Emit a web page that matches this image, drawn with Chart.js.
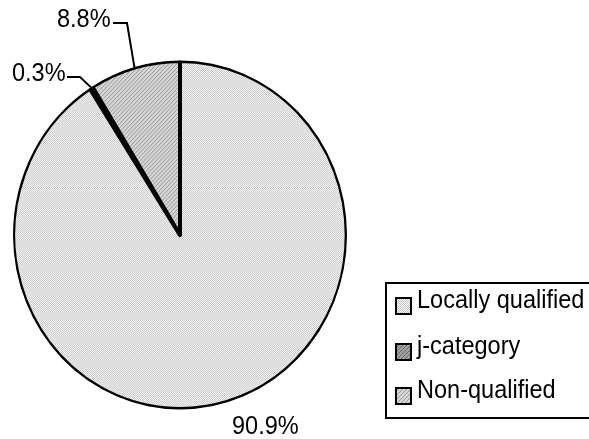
<!DOCTYPE html>
<html>
<head>
<meta charset="utf-8">
<script src="https://cdn.jsdelivr.net/npm/chart.js@4/dist/chart.umd.min.js"></script>
<style>
  body { margin: 0; background: #fff; }
  #wrap { width: 589px; height: 439px; }
</style>
</head>
<body>
<div id="wrap"><canvas id="pie" width="589" height="439"></canvas></div>
<script>
// data
const categories = ["Locally qualified", "j-category", "Non-qualified"];
const shares = [90.9, 0.3, 8.8];
const shareLabels = ["90.9%", "0.3%", "8.8%"];

// the original picture is a bit taller than wide
const STRETCH = 1.045;

// small fill patterns like the old office charts
function checker(fg, bg) {
  let c = document.createElement("canvas");
  c.width = 2; c.height = 2;
  let x = c.getContext("2d");
  x.fillStyle = bg; x.fillRect(0, 0, 2, 2);
  x.fillStyle = fg; x.fillRect(0, 0, 1, 1); x.fillRect(1, 1, 1, 1);
  return x.createPattern(c, "repeat");
}
function diag(fg, bg) {
  let c = document.createElement("canvas");
  c.width = 4; c.height = 4;
  let x = c.getContext("2d");
  x.fillStyle = bg; x.fillRect(0, 0, 4, 4);
  x.fillStyle = fg;
  for (let i = 0; i < 4; i++) x.fillRect(i, 3 - i, 1, 1);
  return x.createPattern(c, "repeat");
}
const fills = [checker("#c0c0c0", "#ffffff"), diag("#666666", "#a0a0a0"), diag("#999999", "#d6d6d6")];

const FONT = '24px "Liberation Sans", Arial, sans-serif';

function tallText(ctx, txt, x, y) {
  ctx.save();
  ctx.translate(x, y);
  ctx.scale(0.98, 1.06);
  ctx.fillText(txt, 0, 0);
  ctx.restore();
}

// squash the pie vertically round its centre
const stretchPlugin = {
  id: "stretch",
  beforeDatasetsDraw(chart) {
    let a = chart.getDatasetMeta(0).data[0];
    chart.ctx.save();
    chart.ctx.translate(a.x, a.y);
    chart.ctx.scale(1, STRETCH);
    chart.ctx.translate(-a.x, -a.y);
  },
  afterDatasetsDraw(chart) {
    chart.ctx.restore();
  }
};

// percent labels + leader lines
const labelPlugin = {
  id: "labels",
  afterDatasetsDraw(chart) {
    let ctx = chart.ctx;
    let arcs = chart.getDatasetMeta(0).data;
    ctx.save();
    ctx.font = FONT;
    ctx.fillStyle = "#000";
    ctx.strokeStyle = "#000";
    ctx.lineWidth = 2;
    ctx.textBaseline = "middle";
    // where the texts sit, and the elbow of the leader line
    let spots = [
      { tx: 232, ty: 427, elbow: null },
      { tx: 12, ty: 74, elbow: [67, 77, 80, 77] },
      { tx: 57, ty: 20, elbow: [113, 23, 127, 23] }
    ];
    arcs.forEach((a, i) => {
      let p = a.getProps(["x", "y", "startAngle", "endAngle", "outerRadius"], true);
      let mid = (p.startAngle + p.endAngle) / 2;
      let ex = p.x + Math.cos(mid) * p.outerRadius;
      let ey = p.y + Math.sin(mid) * p.outerRadius * STRETCH;
      let s = spots[i];
      ctx.textAlign = "left";
      tallText(ctx, shareLabels[i], s.tx, s.ty);
      if (s.elbow) {
        ctx.beginPath();
        ctx.moveTo(s.elbow[0], s.elbow[1]);
        ctx.lineTo(s.elbow[2], s.elbow[3]);
        ctx.lineTo(ex, ey);
        ctx.stroke();
      }
    });
    ctx.restore();
  }
};

// boxed legend at the lower right, runs off the edge like the original
const legendPlugin = {
  id: "boxLegend",
  afterDraw(chart) {
    let ctx = chart.ctx;
    ctx.save();
    ctx.strokeStyle = "#000";
    ctx.lineWidth = 2;
    ctx.strokeRect(386, 283, 240, 135);
    ctx.font = FONT;
    ctx.textBaseline = "middle";
    let rows = [301, 347, 391];
    categories.forEach((c, i) => {
      ctx.fillStyle = fills[i];
      ctx.fillRect(396, rows[i] - 3, 15, 16);
      ctx.lineWidth = 2;
      ctx.strokeRect(396, rows[i] - 3, 15, 16);
      ctx.fillStyle = "#000";
      tallText(ctx, c, 417, rows[i]);
    });
    ctx.restore();
  }
};

new Chart("pie", {
  type: "pie",
  data: {
    labels: categories,
    datasets: [{
      data: shares,
      backgroundColor: fills,
      borderColor: "#000",
      borderWidth: 2,
      borderAlign: "inner"
    }]
  },
  options: {
    responsive: false,
    animation: false,
    layout: { padding: { left: 13, right: 242, top: 68, bottom: 37 } },
    plugins: { legend: { display: false }, tooltip: { enabled: false } }
  },
  plugins: [stretchPlugin, labelPlugin, legendPlugin]
});
</script>
</body>
</html>
